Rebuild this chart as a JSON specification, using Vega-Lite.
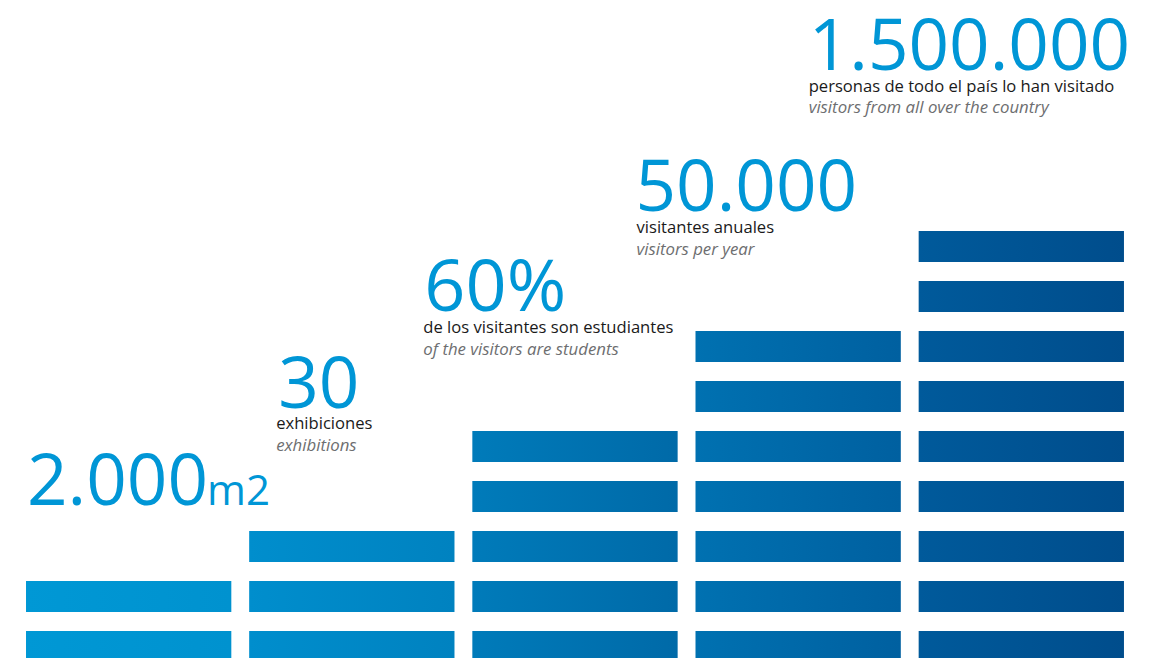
{
  "$schema": "https://vega.github.io/schema/vega-lite/v6.json",
  "width": 1155,
  "height": 658,
  "padding": 0,
  "autosize": {"type": "none"},
  "background": "#ffffff",
  "config": {"view": {"stroke": null}},
  "datasets": {
    "bars": [
      {"col": 1, "row": 1}, {"col": 1, "row": 2},
      {"col": 2, "row": 1}, {"col": 2, "row": 2}, {"col": 2, "row": 3},
      {"col": 3, "row": 1}, {"col": 3, "row": 2}, {"col": 3, "row": 3}, {"col": 3, "row": 4}, {"col": 3, "row": 5},
      {"col": 4, "row": 1}, {"col": 4, "row": 2}, {"col": 4, "row": 3}, {"col": 4, "row": 4}, {"col": 4, "row": 5}, {"col": 4, "row": 6}, {"col": 4, "row": 7},
      {"col": 5, "row": 1}, {"col": 5, "row": 2}, {"col": 5, "row": 3}, {"col": 5, "row": 4}, {"col": 5, "row": 5}, {"col": 5, "row": 6}, {"col": 5, "row": 7}, {"col": 5, "row": 8}, {"col": 5, "row": 9}
    ],
    "labels": [
      {"col": 1, "row": 2, "value": "2.000", "unit": "m2", "es": "", "en": ""},
      {"col": 2, "row": 3, "value": "30", "unit": "", "es": "exhibiciones", "en": "exhibitions"},
      {"col": 3, "row": 5, "value": "60%", "unit": "", "es": "de los visitantes son estudiantes", "en": "of the visitors are students"},
      {"col": 4, "row": 7, "value": "50.000", "unit": "", "es": "visitantes anuales", "en": "visitors per year"},
      {"col": 5, "row": 9, "value": "1.500.000", "unit": "", "es": "personas de todo el país lo han visitado", "en": "visitors from all over the country"}
    ]
  },
  "encoding": {
    "x": {"field": "col", "type": "ordinal", "axis": null,
      "scale": {"domain": [1, 2, 3, 4, 5], "paddingInner": 0.08, "paddingOuter": 0.1278, "align": 0.456}},
    "y": {"field": "row", "type": "ordinal", "axis": null,
      "scale": {"domain": [9, 8, 7, 6, 5, 4, 3, 2, 1], "range": [231, 662], "paddingInner": 0.38, "paddingOuter": 0}}
  },
  "layer": [
    {"data": {"name": "bars"}, "transform": [{"filter": "datum.col == 1"}],
     "mark": {"type": "bar", "clip": true, "color": {"gradient": "linear", "x1": 0, "y1": 0, "x2": 1, "y2": 0, "stops": [{"offset": 0, "color": "#0098d5"}, {"offset": 1, "color": "#0092cf"}]}}},
    {"data": {"name": "bars"}, "transform": [{"filter": "datum.col == 2"}],
     "mark": {"type": "bar", "clip": true, "color": {"gradient": "linear", "x1": 0, "y1": 0, "x2": 1, "y2": 0, "stops": [{"offset": 0, "color": "#008ecd"}, {"offset": 1, "color": "#0082c0"}]}}},
    {"data": {"name": "bars"}, "transform": [{"filter": "datum.col == 3"}],
     "mark": {"type": "bar", "clip": true, "color": {"gradient": "linear", "x1": 0, "y1": 0, "x2": 1, "y2": 0, "stops": [{"offset": 0, "color": "#007bba"}, {"offset": 1, "color": "#006aa8"}]}}},
    {"data": {"name": "bars"}, "transform": [{"filter": "datum.col == 4"}],
     "mark": {"type": "bar", "clip": true, "color": {"gradient": "linear", "x1": 0, "y1": 0, "x2": 1, "y2": 0, "stops": [{"offset": 0, "color": "#0071b1"}, {"offset": 1, "color": "#0060a0"}]}}},
    {"data": {"name": "bars"}, "transform": [{"filter": "datum.col == 5"}],
     "mark": {"type": "bar", "clip": true, "color": {"gradient": "linear", "x1": 0, "y1": 0, "x2": 1, "y2": 0, "stops": [{"offset": 0, "color": "#005a9b"}, {"offset": 1, "color": "#004d8c"}]}}},

    {"data": {"name": "labels"}, "transform": [{"filter": "datum.col == 1"}],
     "mark": {"type": "text", "align": "left", "baseline": "alphabetic", "dx": 1, "dy": -76, "font": "Open Sans", "fontSize": 71, "color": "#0096d6"},
     "encoding": {"x": {"field": "col", "type": "ordinal", "bandPosition": 0}, "y": {"field": "row", "type": "ordinal", "bandPosition": 0}, "text": {"field": "value"}}},
    {"data": {"name": "labels"}, "transform": [{"filter": "datum.col == 1"}],
     "mark": {"type": "text", "align": "left", "baseline": "alphabetic", "dx": 181, "dy": -76, "font": "Open Sans", "fontSize": 42, "color": "#0096d6"},
     "encoding": {"x": {"field": "col", "type": "ordinal", "bandPosition": 0}, "y": {"field": "row", "type": "ordinal", "bandPosition": 0}, "text": {"field": "unit"}}},

    {"data": {"name": "labels"}, "transform": [{"filter": "datum.col == 2"}],
     "mark": {"type": "text", "align": "left", "baseline": "alphabetic", "dx": 29, "dy": -123, "font": "Open Sans", "fontSize": 71, "color": "#0096d6"},
     "encoding": {"x": {"field": "col", "type": "ordinal", "bandPosition": 0}, "y": {"field": "row", "type": "ordinal", "bandPosition": 0}, "text": {"field": "value"}}},
    {"data": {"name": "labels"}, "transform": [{"filter": "datum.col == 2"}],
     "mark": {"type": "text", "align": "left", "baseline": "alphabetic", "dx": 27, "dy": -102, "font": "Open Sans", "fontSize": 16.6, "color": "#1a1a1a"},
     "encoding": {"x": {"field": "col", "type": "ordinal", "bandPosition": 0}, "y": {"field": "row", "type": "ordinal", "bandPosition": 0}, "text": {"field": "es"}}},
    {"data": {"name": "labels"}, "transform": [{"filter": "datum.col == 2"}],
     "mark": {"type": "text", "align": "left", "baseline": "alphabetic", "dx": 27, "dy": -80, "font": "Open Sans", "fontStyle": "italic", "fontSize": 16.8, "color": "#6d6e70"},
     "encoding": {"x": {"field": "col", "type": "ordinal", "bandPosition": 0}, "y": {"field": "row", "type": "ordinal", "bandPosition": 0}, "text": {"field": "en"}}},

    {"data": {"name": "labels"}, "transform": [{"filter": "datum.col == 3"}],
     "mark": {"type": "text", "align": "left", "baseline": "alphabetic", "dx": -48, "dy": -120, "font": "Open Sans", "fontSize": 72, "color": "#0096d6"},
     "encoding": {"x": {"field": "col", "type": "ordinal", "bandPosition": 0}, "y": {"field": "row", "type": "ordinal", "bandPosition": 0}, "text": {"field": "value"}}},
    {"data": {"name": "labels"}, "transform": [{"filter": "datum.col == 3"}],
     "mark": {"type": "text", "align": "left", "baseline": "alphabetic", "dx": -49, "dy": -98, "font": "Open Sans", "fontSize": 16.6, "color": "#1a1a1a"},
     "encoding": {"x": {"field": "col", "type": "ordinal", "bandPosition": 0}, "y": {"field": "row", "type": "ordinal", "bandPosition": 0}, "text": {"field": "es"}}},
    {"data": {"name": "labels"}, "transform": [{"filter": "datum.col == 3"}],
     "mark": {"type": "text", "align": "left", "baseline": "alphabetic", "dx": -49, "dy": -76, "font": "Open Sans", "fontStyle": "italic", "fontSize": 16.8, "color": "#6d6e70"},
     "encoding": {"x": {"field": "col", "type": "ordinal", "bandPosition": 0}, "y": {"field": "row", "type": "ordinal", "bandPosition": 0}, "text": {"field": "en"}}},

    {"data": {"name": "labels"}, "transform": [{"filter": "datum.col == 4"}],
     "mark": {"type": "text", "align": "left", "baseline": "alphabetic", "dx": -60, "dy": -120, "font": "Open Sans", "fontSize": 71, "color": "#0096d6"},
     "encoding": {"x": {"field": "col", "type": "ordinal", "bandPosition": 0}, "y": {"field": "row", "type": "ordinal", "bandPosition": 0}, "text": {"field": "value"}}},
    {"data": {"name": "labels"}, "transform": [{"filter": "datum.col == 4"}],
     "mark": {"type": "text", "align": "left", "baseline": "alphabetic", "dx": -59, "dy": -98, "font": "Open Sans", "fontSize": 16.6, "color": "#1a1a1a"},
     "encoding": {"x": {"field": "col", "type": "ordinal", "bandPosition": 0}, "y": {"field": "row", "type": "ordinal", "bandPosition": 0}, "text": {"field": "es"}}},
    {"data": {"name": "labels"}, "transform": [{"filter": "datum.col == 4"}],
     "mark": {"type": "text", "align": "left", "baseline": "alphabetic", "dx": -59, "dy": -76, "font": "Open Sans", "fontStyle": "italic", "fontSize": 16.8, "color": "#6d6e70"},
     "encoding": {"x": {"field": "col", "type": "ordinal", "bandPosition": 0}, "y": {"field": "row", "type": "ordinal", "bandPosition": 0}, "text": {"field": "en"}}},

    {"data": {"name": "labels"}, "transform": [{"filter": "datum.col == 5"}],
     "mark": {"type": "text", "align": "left", "baseline": "alphabetic", "dx": -110, "dy": -161, "font": "Open Sans", "fontSize": 71, "color": "#0096d6"},
     "encoding": {"x": {"field": "col", "type": "ordinal", "bandPosition": 0}, "y": {"field": "row", "type": "ordinal", "bandPosition": 0}, "text": {"field": "value"}}},
    {"data": {"name": "labels"}, "transform": [{"filter": "datum.col == 5"}],
     "mark": {"type": "text", "align": "left", "baseline": "alphabetic", "dx": -110, "dy": -139, "font": "Open Sans", "fontSize": 16.6, "color": "#1a1a1a"},
     "encoding": {"x": {"field": "col", "type": "ordinal", "bandPosition": 0}, "y": {"field": "row", "type": "ordinal", "bandPosition": 0}, "text": {"field": "es"}}},
    {"data": {"name": "labels"}, "transform": [{"filter": "datum.col == 5"}],
     "mark": {"type": "text", "align": "left", "baseline": "alphabetic", "dx": -110, "dy": -118, "font": "Open Sans", "fontStyle": "italic", "fontSize": 16.8, "color": "#6d6e70"},
     "encoding": {"x": {"field": "col", "type": "ordinal", "bandPosition": 0}, "y": {"field": "row", "type": "ordinal", "bandPosition": 0}, "text": {"field": "en"}}}
  ]
}
